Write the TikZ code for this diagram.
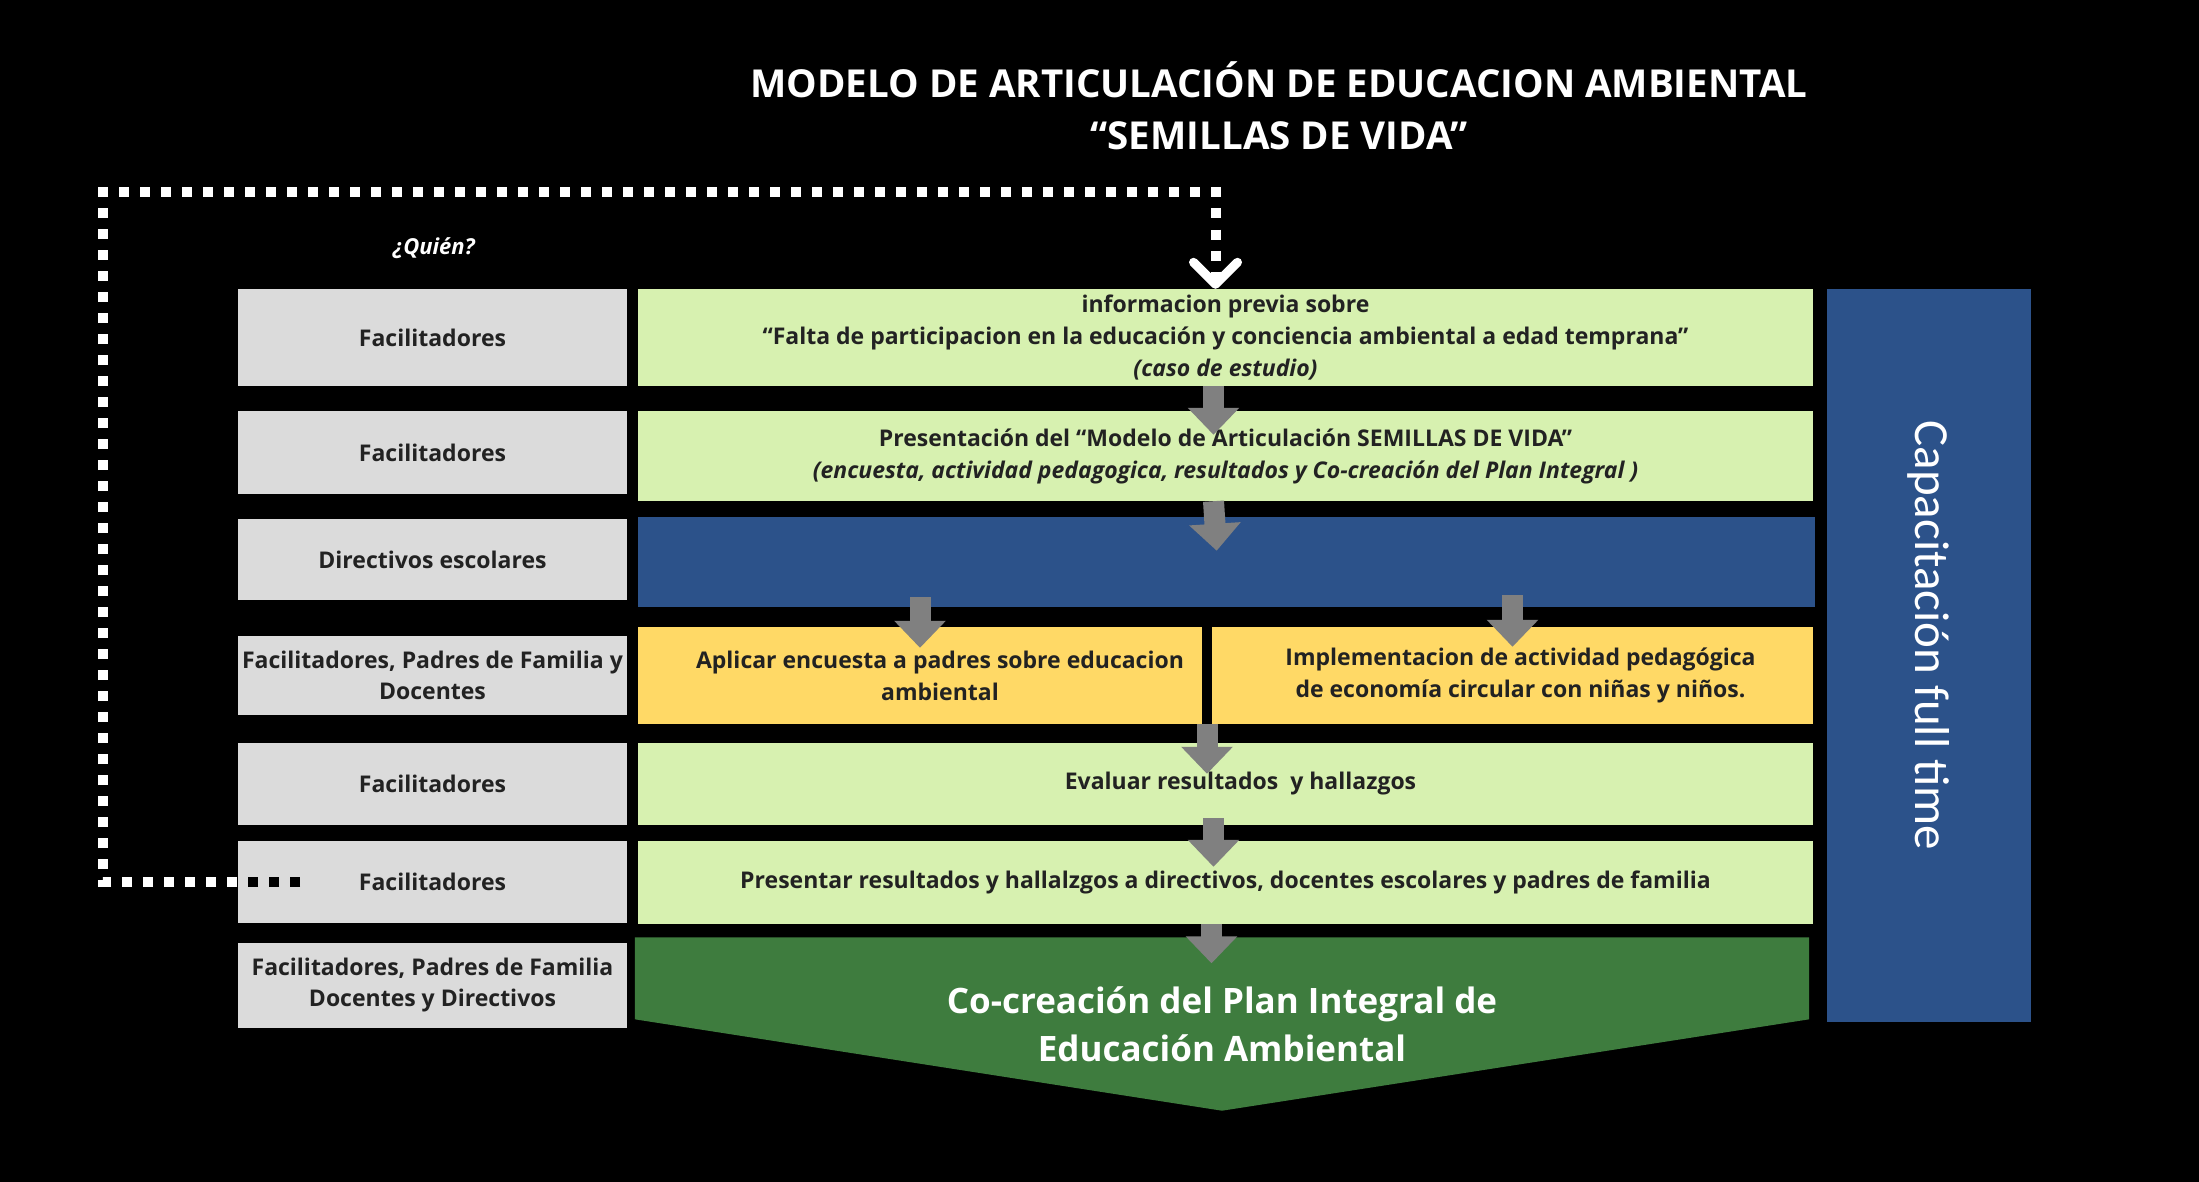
\documentclass[tikz,border=0pt]{standalone}
\usepackage{fontspec}
\setmainfont{Open Sans}
\newfontfamily\barfont{Carlito}
\usetikzlibrary{arrows.meta, calc, positioning, backgrounds}

\definecolor{boxgray}{RGB}{219,219,219}
\definecolor{palegreen}{RGB}{215,241,176}
\definecolor{deepblue}{RGB}{44,82,138}
\definecolor{softyellow}{RGB}{255,217,102}
\definecolor{leafgreen}{RGB}{62,124,62}
\definecolor{arrowgray}{RGB}{128,128,128}
\definecolor{ink}{RGB}{34,34,34}

\begin{document}
\begin{tikzpicture}[x=1pt, y=-1pt,
  who/.style={fill=boxgray, text=ink, font=\fontsize{23}{31}\selectfont\bfseries, align=center, minimum width=389pt, inner sep=0pt},
  stage/.style={fill=palegreen, text=ink, font=\fontsize{23}{32}\selectfont\bfseries, align=center, minimum width=1175pt, inner sep=0pt},
  task/.style={fill=softyellow, text=ink, font=\fontsize{23}{32}\selectfont\bfseries, align=center, inner sep=0pt},
  flow/.style={arrowgray, line width=21pt, -{Triangle[width=50pt,length=27pt]}},
  loopline/.style={white, line width=10pt, dash pattern=on 10pt off 11pt}]
\begin{pgfonlayer}{background}
\fill[black] (0,0) rectangle (2199,1182);
\end{pgfonlayer}
\useasboundingbox (0,0) rectangle (2199,1182);

% title
\node[text=white, font=\fontsize{38.5}{52}\selectfont\bfseries, align=center] (title) at (1279,106)
  {MODELO DE ARTICULACIÓN DE EDUCACION AMBIENTAL\\“SEMILLAS DE VIDA”};
\node[text=white, font=\fontsize{22}{22}\selectfont\bfseries\itshape] (quien) at (434,248) {¿Quién?};

% who does it
\node[who, minimum height=97pt] (g1) at (432.5,337.5) {Facilitadores};
\node[who, minimum height=83pt] (g2) at (432.5,452.5) {Facilitadores};
\node[who, minimum height=81pt] (g3) at (432.5,559.5) {Directivos escolares};
\node[who, minimum height=79pt] (g4) at (432.5,675.5) {Facilitadores, Padres de Familia y\\Docentes};
\node[who, minimum height=82pt] (g5) at (432.5,784) {Facilitadores};
\node[who, minimum height=82pt] (g6) at (432.5,882) {Facilitadores};
\node[who, minimum height=85pt] (g7) at (432.5,985.5) {Facilitadores, Padres de Familia\\Docentes y Directivos};

% stages
\node[stage, minimum height=97pt] (r1) at (1225.5,337.5)
  {informacion previa sobre\\“Falta de participacion en la educación y conciencia ambiental a edad temprana”\\\textit{(caso de estudio)}};
\node[stage, minimum height=90pt] (r2) at (1225.5,456)
  {Presentación del “Modelo de Articulación SEMILLAS DE VIDA”\\\textit{(encuesta, actividad pedagogica, resultados y Co-creación del Plan Integral )}};
\node[fill=deepblue, minimum width=1177pt, minimum height=90pt, inner sep=0pt] (r3) at (1226.5,562) {};
\node[task, minimum width=564pt, minimum height=97pt] (r4a) at (920,675.5)
  {\hspace*{40pt}Aplicar encuesta a padres sobre educacion\\\hspace*{40pt}ambiental};
\node[task, minimum width=601pt, minimum height=97pt] (r4b) at (1512.5,675.5)
  {\hspace*{16pt}Implementacion de actividad pedagógica\\\hspace*{16pt}de economía circular con niñas y niños.};
\node[stage, minimum height=82pt] (r5) at (1225.5,784) {\hspace*{30pt}Evaluar resultados~ y hallazgos};
\node[stage, minimum height=83pt] (r6) at (1225.5,882.5)
  {Presentar resultados y hallalzgos a directivos, docentes escolares y padres de familia};
\node[text=white, font=\fontsize{35}{48}\selectfont\bfseries, align=center, minimum width=1174pt, minimum height=173pt, inner sep=0pt] (r7) at (1222,1024)
  {Co-creación del Plan Integral de\\Educación Ambiental};
\begin{pgfonlayer}{background}
\fill[leafgreen] (r7.north west) -- (r7.north east) -- ++(0,82) -- (r7.south) -- ($(r7.north west)+(0,82)$) -- cycle;
\end{pgfonlayer}

% side bar
\node[fill=deepblue, text=white, font=\barfont\fontsize{49}{49}\selectfont, rotate=-90, minimum width=733pt, minimum height=204pt, inner sep=0pt] (bar) at (1929,655.5) {Capacitación full time\hspace*{40pt}};

% arrows
\coordinate (split) at ($(r4a.south east)!.5!(r4b.south west)$);
\coordinate (lastdrop) at ([xshift=-14pt]r6.south);
\draw[flow, shorten >=-24pt] ([xshift=-12pt]r1.south) -- ([xshift=-12pt]r2.north);
\draw[flow, shorten >=-34pt] ([xshift=-12pt]r2.south) -- ([xshift=-12pt]r3.north);
\draw[flow, shorten <=-10pt, shorten >=-21pt] (r3.south -| r4a.north) -- (r4a.north);
\draw[flow, shorten <=-12pt, shorten >=-20pt] (r3.south -| r4b.north) -- (r4b.north);
\draw[flow, shorten >=-31pt] (split) -- (split |- r5.north);
\draw[flow, shorten <=-7pt, shorten >=-26pt] ([xshift=-12pt]r5.south) -- ([xshift=-12pt]r6.north);
\draw[flow, shorten >=-26pt] (lastdrop) -- (lastdrop |- r7.north);

% feedback loop
\coordinate (loopstart) at (300,882);
\draw[loopline, -{Straight Barb[width=44pt,length=22pt,line width=9pt,round]}]
  (loopstart) -| (103,192) -| ([xshift=-10pt]r1.north);
\draw[loopline, black] (loopstart) -- (loopstart -| g6.west);
\end{tikzpicture}
\end{document}
